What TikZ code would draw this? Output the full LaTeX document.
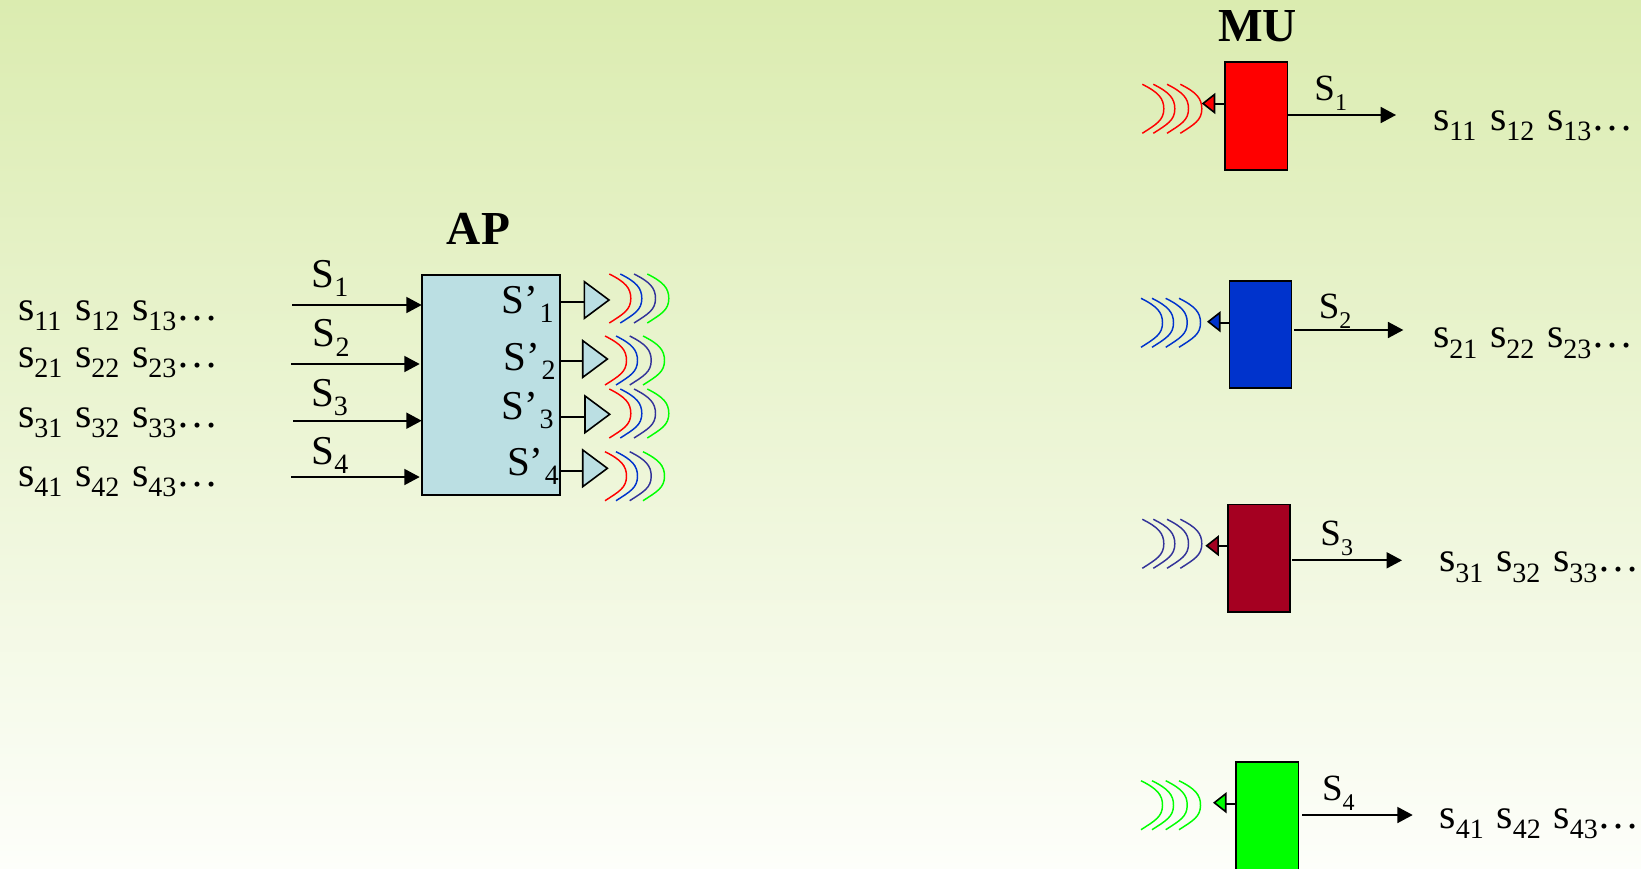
\documentclass[tikz,border=0pt]{standalone}
\usepackage{fontspec}
\setmainfont{Liberation Serif}
\usetikzlibrary{arrows.meta,shapes.geometric}
\definecolor{apblue}{HTML}{BBDFE3}
\definecolor{wblue}{HTML}{0033CC}
\definecolor{windigo}{HTML}{333399}
\definecolor{wred}{HTML}{FF0000}
\definecolor{wgreen}{HTML}{00FF00}
\definecolor{crimsonbox}{HTML}{A50021}
\definecolor{bgtop}{HTML}{DBECB0}
\definecolor{bgbot}{HTML}{FDFEFA}
\newcommand\lowsub[1]{\raisebox{-7.05pt}{\fontsize{21}{21}\selectfont #1}}
\newcommand\lowsmall[1]{\raisebox{-7.5pt}{\fontsize{18}{18}\selectfont #1}}
\newcommand\lowd[1]{\raisebox{-8pt}{\fontsize{21}{21}\selectfont #1}}
\newcommand\sss[1]{\makebox[42.75pt][l]{\fontsize{31.5}{31.5}\selectfont s\lowd{#1}}}
\newcommand\datatext[1]{\sss{#11}\sss{#12}\makebox[33pt][l]{\fontsize{31.5}{31.5}\selectfont s\lowd{#13}}{\fontsize{31.5}{31.5}\selectfont …}}
\newcommand\sigtext[1]{S\lowsub{#1}}
\newcommand\sigsmall[1]{S\lowsmall{#1}}
\newcommand\primetext[1]{S’\kern1pt\lowsub{#1}}
\newcommand\wave[3]{\draw[wavestroke,#3] (#1,#2) .. controls (#1+16,#2+8) and (#1+21.5,#2+14) .. (#1+21.5,#2+24.5) .. controls (#1+21.5,#2+36) and (#1+14,#2+40) .. (#1,#2+49);}
\newcommand\waveset[6]{\wave{#1}{#2}{#3}\wave{#1+11}{#2}{#4}\wave{#1+24.7}{#2}{#5}\wave{#1+38}{#2}{#6}}
\tikzset{
  x=0.75pt,y=-0.75pt,
  wavestroke/.style={line width=1.1pt},
  box/.style={draw=black,line width=1.2pt,inner sep=0,outer sep=0,anchor=north west},
  link/.style={draw=black,line width=1.25pt},
  arrowlink/.style={link,-{Triangle[length=11.5pt,width=12pt]}},
  lbl/.style={inner sep=0,anchor=base west,font=\fontsize{30.75}{30.75}\selectfont},
  lblsmall/.style={inner sep=0,anchor=base west,font=\fontsize{27.75}{27.75}\selectfont},
  title/.style={inner sep=0,anchor=base west,font=\fontsize{35.5}{35.5}\selectfont\bfseries},
  datalbl/.style={inner sep=0,anchor=base west},
  amp/.style={draw=black,line width=1.2pt,inner sep=0,outer sep=0,isosceles triangle,isosceles triangle stretches,minimum width=27.5pt,minimum height=18.5pt,anchor=apex},
  rx/.style={draw=black,line width=1.2pt,inner sep=0,outer sep=0,isosceles triangle,isosceles triangle stretches,shape border rotate=180,minimum width=13.5pt,minimum height=8.6pt,anchor=apex},
}
\begin{document}
\begin{tikzpicture}
\useasboundingbox (0,0) rectangle (1641,868);
\clip (0,0) rectangle (1641,868);
\shade[top color=bgtop,bottom color=bgbot] (0,0) rectangle (1641,868);
% AP
\node[box,fill=apblue,minimum width=103.5pt,minimum height=165pt] (ap) at (421.7,275) {};
\node[title] (aplbl) at (446.7,244) {AP};
\foreach \n/\x/\y/\tx/\ty/\sh in {1/292/305/311.2/287.3/0pt,2/291/364/312.5/346.7/1.5pt,3/293/420.7/310.8/406/0pt,4/291/477/311.2/464.3/1.5pt}{
  \coordinate (in\n) at (\x,\y);
  \draw[arrowlink,shorten >=\sh] (in\n) -- (in\n -| ap.west);
  \node[lbl] (s\n) at (\tx,\ty) {\sigtext{\n}};
}
\foreach \n/\tx/\ty/\ly/\ax/\ay/\wx/\wy in {1/501.5/313/301.7/584.3/300/609.3/274,2/503.5/370/361/582.7/359/605/336,3/501.5/419/416.7/585/414.3/609.3/389,4/506.8/475/470.7/582.7/468.3/605/451.7}{
  \node[lbl] (p\n) at (\tx,\ty) {\primetext{\n}};
  \coordinate (o\n) at (560,\ly);
  \coordinate (b\n) at (\ax,\ly);
  \draw[link] (o\n) -- (b\n);
  \node[amp,fill=apblue] (amp\n) at (\ax+24.7,\ay) {};
  \waveset{\wx}{\wy}{wred}{wblue}{windigo}{wgreen}
}
% data left
\node[datalbl] (d1) at (17.8,320) {\datatext{1}};
\node[datalbl] (d2) at (17.8,367) {\datatext{2}};
\node[datalbl] (d3) at (17.8,427) {\datatext{3}};
\node[datalbl] (d4) at (17.8,486) {\datatext{4}};
% MU
\node[title] (mulbl) at (1218,41) {MU};
\foreach \n/\bx/\by/\bh/\col/\wcol/\wx/\wy/\tip/\tipy/\ly/\ox/\oy/\oe/\tx/\ty/\dx/\dy in {
 1/1225/62/81/wred/wred/1142.3/84.3/1203/103.5/104/1287/115/1396/1314.2/100/1432.8/130,
 2/1229.3/280.7/80.6/wblue/wblue/1141/298.3/1208.3/321.7/322.7/1294/330/1403.3/1318.5/318.3/1432.8/347.7,
 3/1227.7/504.3/80.6/crimsonbox/windigo/1142.3/519.3/1206.7/545.7/546/1292.3/560.3/1402/1320.2/545.7/1438.8/571.7,
 4/1236/762/100/wgreen/wgreen/1141/780.7/1214.3/802.7/804/1302/815/1412.7/1321.8/800/1439.2/828.3}{
  \node[box,fill=\col,minimum width=46.75pt,minimum height=\bh pt] (mu\n) at (\bx,\by) {};
  \node[rx,fill=\col] (rx\n) at (\tip,\tipy) {};
  \coordinate (l\n) at (\bx,\ly);
  \coordinate (m\n) at (\tip+11.5,\ly);
  \draw[link] (l\n) -- (m\n);
  \waveset{\wx}{\wy}{\wcol}{\wcol}{\wcol}{\wcol}
  \coordinate (os\n) at (\ox,\oy);
  \coordinate (oe\n) at (\oe,\oy);
  \draw[arrowlink] (os\n) -- (oe\n);
  \node[lblsmall] (t\n) at (\tx,\ty) {\sigsmall{\n}};
  \node[datalbl] (dr\n) at (\dx,\dy) {\datatext{\n}};
}
\end{tikzpicture}
\end{document}
